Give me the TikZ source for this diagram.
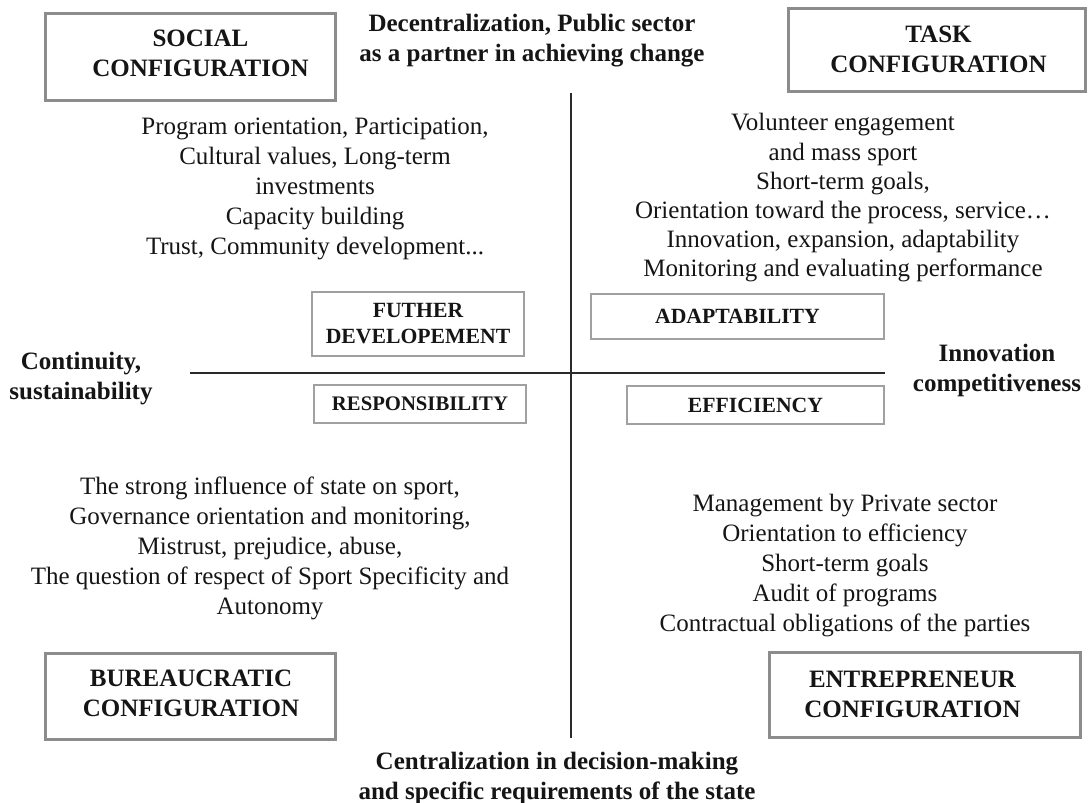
\documentclass[tikz,border=0pt]{standalone}
\usepackage{fontspec}
\setmainfont{Liberation Serif}
\definecolor{boxgray}{HTML}{8C8C8C}
\definecolor{smallgray}{HTML}{A0A0A0}
\definecolor{axisgray}{HTML}{2A2A2A}
\definecolor{txt}{HTML}{151515}
\begin{document}
\begin{tikzpicture}[x=1pt,y=-1pt,
  every node/.style={text=txt,inner sep=0pt,outer sep=0pt},
  bigbox/.style={draw=boxgray,line width=3pt},
  boxtext/.style={align=center,font=\fontsize{25pt}{30pt}\selectfont\bfseries},
  smallbox/.style={draw=smallgray,line width=1.5pt,align=center,font=\fontsize{21.7pt}{26pt}\selectfont\bfseries},
  bodytext/.style={align=center,font=\fontsize{25pt}{30pt}\selectfont},
  axislabel/.style={align=center,font=\fontsize{25pt}{30pt}\selectfont\bfseries},
  axisline/.style={draw=axisgray,line width=2pt}]
\useasboundingbox (0,0) rectangle (1088,803);
% axes
\coordinate (vtop) at (571,93);
\coordinate (vbot) at (571,738);
\coordinate (hleft) at (190,373);
\coordinate (hright) at (885,373);
\draw[axisline] (vtop) -- (vbot);
\draw[axisline] (hleft) -- (hright);
% corner boxes
\node[bigbox,minimum width=290pt,minimum height=87pt] (social) at (190.5,56.5) {};
\node[boxtext] (socialtxt) at ([xshift=10pt,yshift=3.5pt]social.center) {SOCIAL\\CONFIGURATION};
\node[bigbox,minimum width=297pt,minimum height=83pt] (task) at (936.5,49.5) {};
\node[boxtext] (tasktxt) at ([xshift=2pt,yshift=0.5pt]task.center) {TASK\\CONFIGURATION};
\node[bigbox,minimum width=290pt,minimum height=86pt] (bureau) at (190,696) {};
\node[boxtext] (bureautxt) at ([xshift=1pt,yshift=3pt]bureau.center) {BUREAUCRATIC\\CONFIGURATION};
\node[bigbox,minimum width=311pt,minimum height=85pt] (entre) at (924.5,694.5) {};
\node[boxtext] (entretxt) at ([xshift=-12pt,yshift=0.5pt]entre.center) {ENTREPRENEUR\\CONFIGURATION};
% inner boxes
\node[smallbox,minimum width=212pt,minimum height=64pt] (further) at (418,324) {FUTHER\\DEVELOPEMENT};
\node[smallbox,minimum width=293pt,minimum height=45pt] (adapt) at (737.5,316.5) {ADAPTABILITY};
\node[smallbox,minimum width=212pt,minimum height=38pt,font=\fontsize{20.7pt}{26pt}\selectfont\bfseries] (resp) at (420,404) {RESPONSIBILITY};
\node[smallbox,minimum width=257pt,minimum height=38pt] (eff) at (755.5,405) {EFFICIENCY};
% axis labels
\node[axislabel] (top) at (532,41) {Decentralization, Public sector\\as a partner in achieving change};
\node[axislabel] (left) at (81,379) {Continuity,\\sustainability};
\node[axislabel] (right) at (997,370) {Innovation\\competitiveness};
\node[axislabel] (bottom) at (557,778) {Centralization in decision-making\\and specific requirements of the state};
% body texts
\node[bodytext] (ul) at (315,189) {Program orientation, Participation,\\Cultural values, Long-term\\investments\\Capacity building\\Trust, Community development...};
\node[bodytext,font=\fontsize{25pt}{29.2pt}\selectfont] (ur) at (843,198) {Volunteer engagement\\and mass sport\\Short-term goals,\\Orientation toward the process, service…\\Innovation, expansion, adaptability\\Monitoring and evaluating performance};
\node[bodytext] (ll) at (270,548) {The strong influence of state on sport,\\Governance orientation and monitoring,\\Mistrust, prejudice, abuse,\\The question of respect of Sport Specificity and\\Autonomy};
\node[bodytext] (lr) at (845,566) {Management by Private sector\\Orientation to efficiency\\Short-term goals\\Audit of programs\\Contractual obligations of the parties};
\end{tikzpicture}
\end{document}
